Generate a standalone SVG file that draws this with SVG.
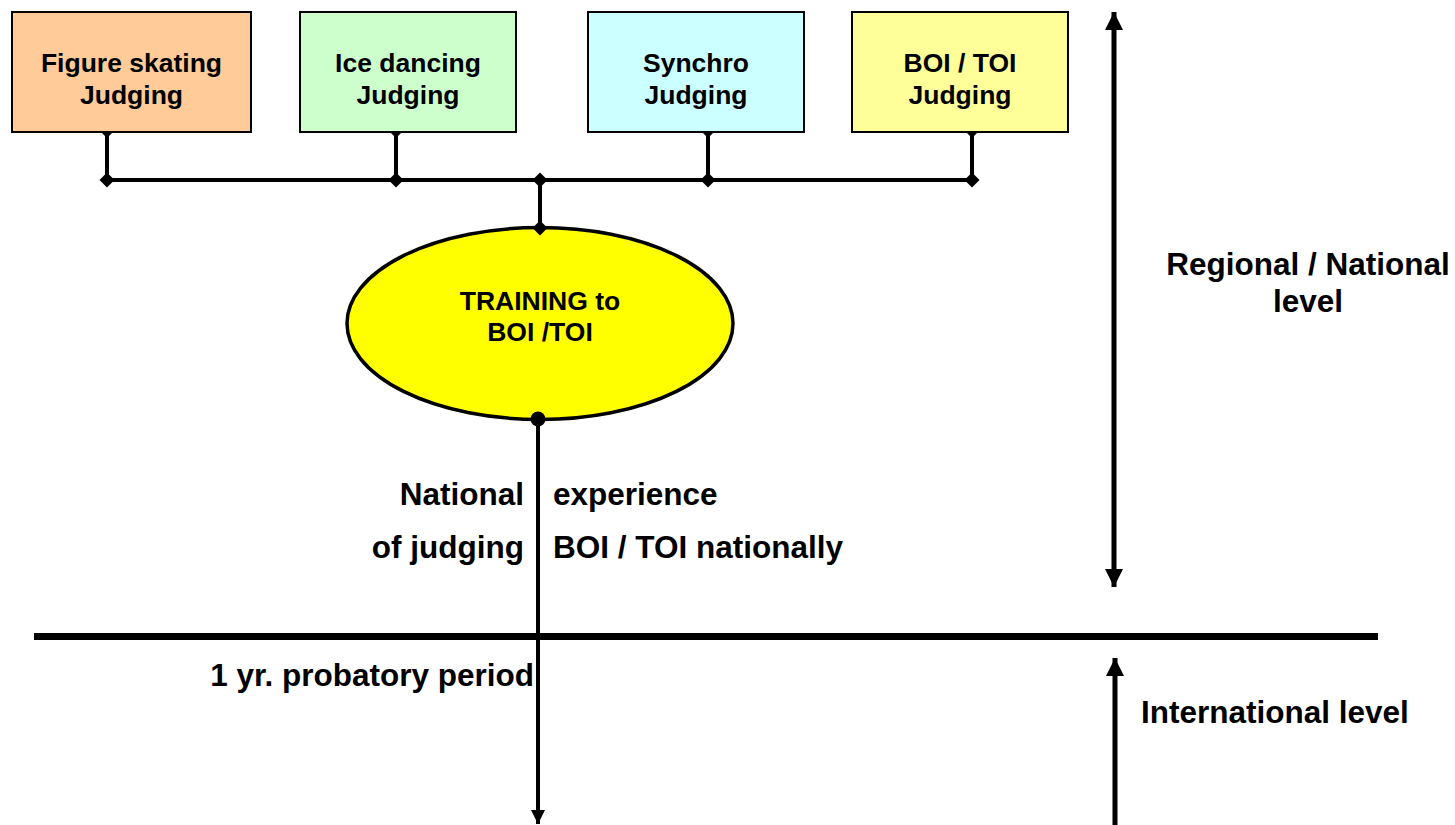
<svg xmlns="http://www.w3.org/2000/svg" width="1455" height="825" viewBox="0 0 1455 825">
<style>
.box{stroke:#000;stroke-width:2}
.bt{font-family:"Liberation Sans",Arial,sans-serif;font-weight:bold;font-size:26.5px;text-anchor:middle;fill:#000}
.lt{font-family:"Liberation Sans",Arial,sans-serif;font-weight:bold;font-size:31.5px;fill:#000}
.ln{stroke:#000;fill:none}
</style>
<defs>
<marker id="ahBig" markerUnits="userSpaceOnUse" markerWidth="20" markerHeight="20" viewBox="0 0 20 20" refX="18" refY="10" orient="auto-start-reverse">
<path d="M0,1 L18,10 L0,19 Z" fill="#000"/>
</marker>
<marker id="ahSmall" markerUnits="userSpaceOnUse" markerWidth="16" markerHeight="16" viewBox="0 0 16 16" refX="14" refY="8" orient="auto">
<path d="M0,1 L14,8 L0,15 Z" fill="#000"/>
</marker>
<path id="dia" d="M0,-7.5 L7.5,0 L0,7.5 L-7.5,0 Z" fill="#000"/>
</defs>
<rect width="1455" height="825" fill="#fff"/>
<g id="connectors">
<path class="ln" stroke-width="4" d="M107,132 V180 M396,132 V180 M708,132 V180 M972,132 V180 M540,180 V228 M107,180 H972"/>
<use href="#dia" x="107" y="180"/>
<use href="#dia" x="396" y="180"/>
<use href="#dia" x="540" y="180"/>
<use href="#dia" x="708" y="180"/>
<use href="#dia" x="972" y="180"/>
<path d="M102,133 L107,138 L112,133 Z M391,133 L396,138 L401,133 Z M703,133 L708,138 L713,133 Z M967,133 L972,138 L977,133 Z" fill="#000"/>
<line class="ln" stroke-width="4" x1="538" y1="419" x2="538" y2="824" marker-end="url(#ahSmall)"/>
<line class="ln" stroke-width="7" x1="34" y1="636.5" x2="1378" y2="636.5"/>
<line class="ln" stroke-width="5" x1="1114" y1="12" x2="1114" y2="587" marker-start="url(#ahBig)" marker-end="url(#ahBig)"/>
<line class="ln" stroke-width="5" x1="1115" y1="825" x2="1115" y2="658" marker-end="url(#ahBig)"/>
</g>
<g id="fs-judging">
<rect class="box" x="12" y="12" width="239" height="120" fill="#FFCC99"/>
<text class="bt" x="131.5" y="71.5">Figure skating</text>
<text class="bt" x="131.5" y="103.5">Judging</text>
</g>
<g id="id-judging">
<rect class="box" x="300" y="12" width="216" height="120" fill="#CCFFCC"/>
<text class="bt" x="408" y="71.5">Ice dancing</text>
<text class="bt" x="408" y="103.5">Judging</text>
</g>
<g id="sy-judging">
<rect class="box" x="588" y="12" width="216" height="120" fill="#CCFFFF"/>
<text class="bt" x="696" y="71.5">Synchro</text>
<text class="bt" x="696" y="103.5">Judging</text>
</g>
<g id="boi-judging">
<rect class="box" x="852" y="12" width="216" height="120" fill="#FFFF99"/>
<text class="bt" x="960" y="71.5">BOI / TOI</text>
<text class="bt" x="960" y="103.5">Judging</text>
</g>
<g id="training">
<ellipse cx="540" cy="323.5" rx="193" ry="96" fill="#FFFF00" stroke="#000" stroke-width="3.5"/>
<text class="bt" x="540" y="310" font-size="24">TRAINING to</text>
<text class="bt" x="540" y="340.5" font-size="24">BOI /TOI</text>
<use href="#dia" x="540" y="228"/>
<circle cx="538" cy="419" r="7.5" fill="#000"/>
</g>
<g id="labels">
<text class="lt" x="1308" y="275" text-anchor="middle">Regional / National</text>
<text class="lt" x="1308" y="312" text-anchor="middle">level</text>
<text class="lt" x="1141" y="723">International level</text>
<text class="lt" x="524" y="505" text-anchor="end">National</text>
<text class="lt" x="553" y="505">experience</text>
<text class="lt" x="524" y="558" text-anchor="end">of judging</text>
<text class="lt" x="553" y="558">BOI / TOI nationally</text>
<text class="lt" x="534" y="686" text-anchor="end">1 yr. probatory period</text>
</g>
</svg>
